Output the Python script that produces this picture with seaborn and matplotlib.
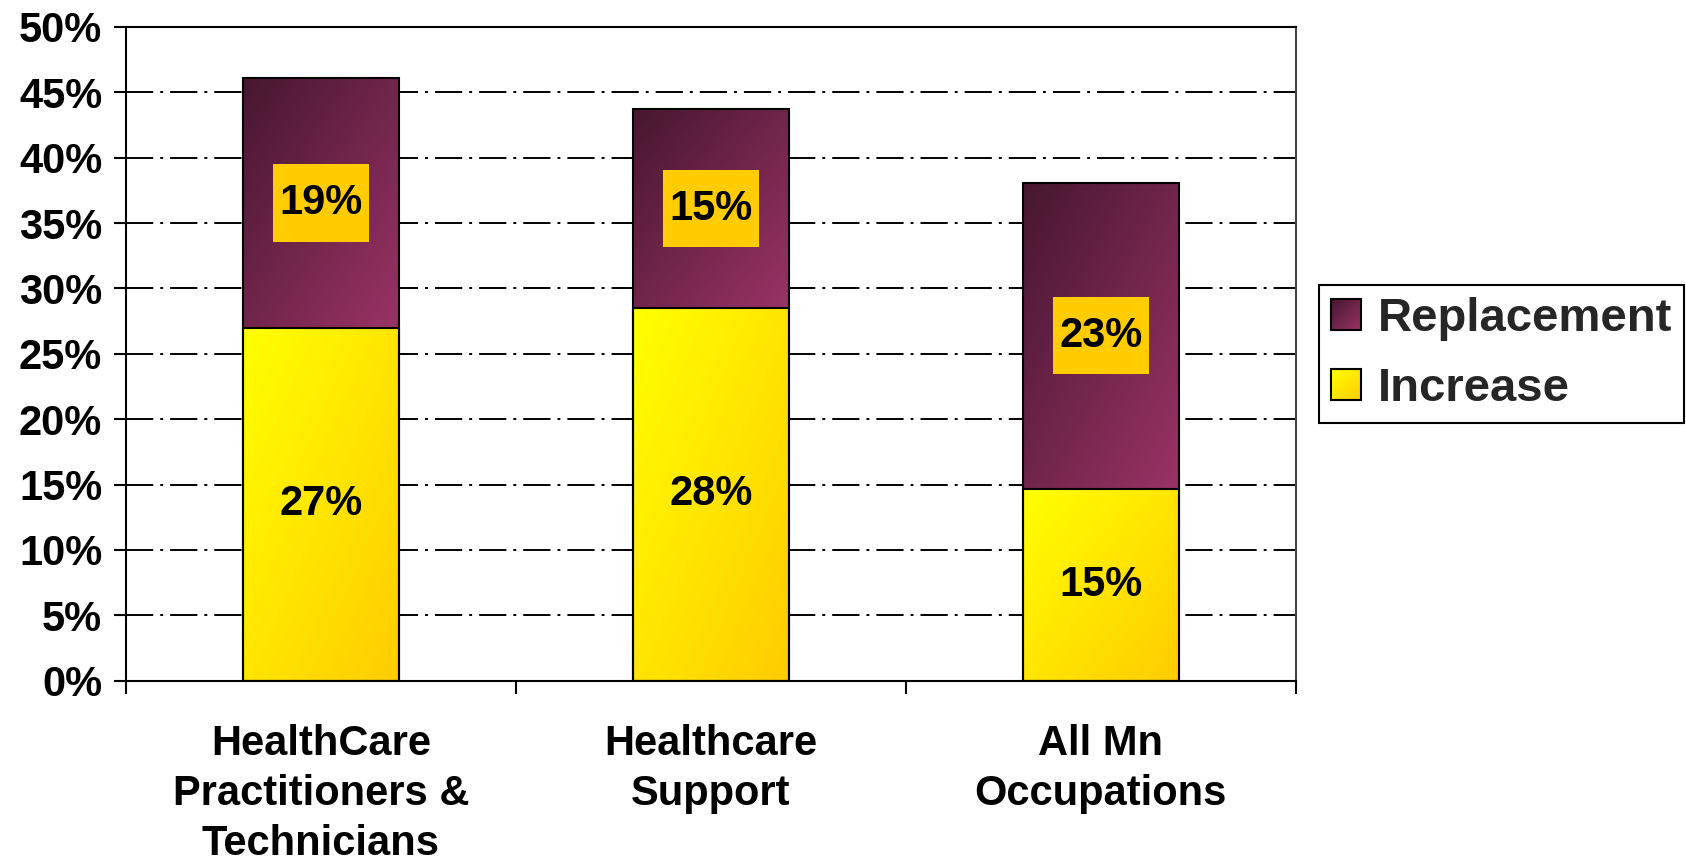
import numpy as np
import pandas as pd
import matplotlib
matplotlib.use("Agg")
import matplotlib.pyplot as plt
import seaborn as sns
from matplotlib.legend_handler import HandlerBase
from matplotlib.image import BboxImage
from matplotlib.transforms import Bbox, TransformedBbox
from matplotlib.patches import Rectangle, Patch
from matplotlib.path import Path
from matplotlib.colors import LinearSegmentedColormap

# ---------------- data ----------------
categories = ["HealthCare\nPractitioners &\nTechnicians", "Healthcare\nSupport", "All Mn\nOccupations"]
increase = [27.0, 28.5, 14.7]
replacement = [19.1, 15.2, 23.4]
increase_labels = ["27%", "28%", "15%"]
replacement_labels = ["19%", "15%", "23%"]
series_names = ["Replacement", "Increase"]
y_ticks = [0, 5, 10, 15, 20, 25, 30, 35, 40, 45, 50]
y_tick_labels = ["0%", "5%", "10%", "15%", "20%", "25%", "30%", "35%", "40%", "45%", "50%"]

# ---------------- style ----------------
sns.set_theme(style="white")
plt.rcParams["font.family"] = ["Liberation Sans", "DejaVu Sans"]
plt.rcParams["font.weight"] = "bold"

purple_cmap = LinearSegmentedColormap.from_list("purp", ["#47172f", "#9a3366"])
yellow_cmap = LinearSegmentedColormap.from_list("yell", ["#ffff00", "#ffcc00"])


def grad_array(n=256):
    xx, yy = np.meshgrid(np.linspace(0, 1, n), np.linspace(0, 1, n))
    return (xx + yy) / 2.0


def label_box(x0, y0, width, height, mutation_size):
    hp = 0.15 * mutation_size
    vp = 0.45 * mutation_size
    x0, y0 = x0 - hp, y0 - vp
    x1, y1 = x0 + width + 2 * hp, y0 + height + 2 * vp
    return Path([(x0, y0), (x1, y0), (x1, y1), (x0, y1), (x0, y0)], closed=True)


fig = plt.figure(figsize=(16.86, 8.63), dpi=100)
ax = fig.add_axes([0.0746, 0.2112, 0.6939, 0.7576])

df = pd.DataFrame({"category": categories, "increase": increase, "replacement": replacement})
df["total"] = df["increase"] + df["replacement"]

sns.barplot(data=df, x="category", y="total", color="#6e2550", width=0.4, ax=ax,
            saturation=1, edgecolor="black", linewidth=1.5)
sns.barplot(data=df, x="category", y="increase", color="#ffe600", width=0.4, ax=ax,
            saturation=1, edgecolor="black", linewidth=1.5)

top_bars = ax.containers[0]
low_bars = ax.containers[1]
g = grad_array()
for i, bar in enumerate(top_bars):
    x, w = bar.get_x(), bar.get_width()
    im = ax.imshow(g, cmap=purple_cmap, extent=(x, x + w, increase[i], bar.get_height()),
                   origin="upper", aspect="auto", zorder=1.1, interpolation="bilinear")
    im.set_clip_path(bar)
    bar.set_facecolor("none")
    bar.set_zorder(1.2)
for i, bar in enumerate(low_bars):
    x, w = bar.get_x(), bar.get_width()
    im = ax.imshow(g, cmap=yellow_cmap, extent=(x, x + w, 0, bar.get_height()),
                   origin="upper", aspect="auto", zorder=1.1, interpolation="bilinear")
    im.set_clip_path(bar)
    bar.set_facecolor("none")
    bar.set_zorder(1.3)

# data labels
for i in range(len(categories)):
    ax.text(i, increase[i] / 2, increase_labels[i], ha="center", va="center",
            fontsize=30, fontweight="bold", color="black", zorder=3)
    ax.text(i, increase[i] + replacement[i] / 2, replacement_labels[i], ha="center", va="center",
            fontsize=30, fontweight="bold", color="black", zorder=3,
            bbox=dict(boxstyle=label_box, fc="#ffcc00", ec="none"))

ax.set_xlim(-0.5, len(categories) - 0.5)
ax.set_ylim(0, 50)

# grid
ax.set_axisbelow(True)
ax.yaxis.grid(True, color="black", linewidth=1.4, linestyle=(0, (14, 3.6, 1.5, 3.6)))
ax.xaxis.grid(False)

# ticks
ax.set_yticks(y_ticks)
ax.set_yticklabels(y_tick_labels, fontsize=30, fontweight="bold")
ax.tick_params(axis="y", direction="out", length=9, width=1.5, left=True, pad=8, colors="black")
ax.set_xticks(range(len(categories)))
ax.set_xticklabels(categories, fontsize=30, fontweight="bold", linespacing=1.32)
ax.tick_params(axis="x", which="major", length=0, pad=31.5, colors="black")
ax.set_xticks(np.arange(len(categories) + 1) - 0.5, minor=True)
ax.tick_params(axis="x", which="minor", direction="out", length=9, width=1.5, bottom=True, colors="black")
ax.set_xlabel("")
ax.set_ylabel("")

for s in ax.spines.values():
    s.set_visible(True)
    s.set_color("black")
    s.set_linewidth(1.5)
ax.spines["right"].set_color("#444444")


class GradientHandler(HandlerBase):
    def __init__(self, cmap):
        super().__init__()
        self.cmap = cmap

    def create_artists(self, legend, orig_handle, xdescent, ydescent, width, height, fontsize, trans):
        size = min(width, height)
        x0 = -xdescent + (width - size) / 2
        y0 = -ydescent + (height - size) / 2
        bb = TransformedBbox(Bbox.from_bounds(x0, y0, size, size), trans)
        img = BboxImage(bb, cmap=self.cmap, interpolation="bilinear", origin="upper")
        img.set_data(grad_array(64))
        rect = Rectangle((x0, y0), size, size, facecolor="none", edgecolor="black",
                         linewidth=1.5, transform=trans)
        return [img, rect]


h_rep = Patch(label=series_names[0])
h_inc = Patch(label=series_names[1])
leg = fig.legend(handles=[h_rep, h_inc],
                 handler_map={h_rep: GradientHandler(purple_cmap), h_inc: GradientHandler(yellow_cmap)},
                 loc="center left", bbox_to_anchor=(0.7823, 0.5895), bbox_transform=fig.transFigure,
                 prop={"size": 34, "weight": "bold"}, frameon=True, fancybox=False, framealpha=1,
                 edgecolor="black", handlelength=0.65, handleheight=0.65, handletextpad=0.35,
                 labelspacing=0.55, borderpad=0.25, borderaxespad=0)
leg.get_frame().set_linewidth(1.5)

fig.savefig("out.png", dpi=100)
